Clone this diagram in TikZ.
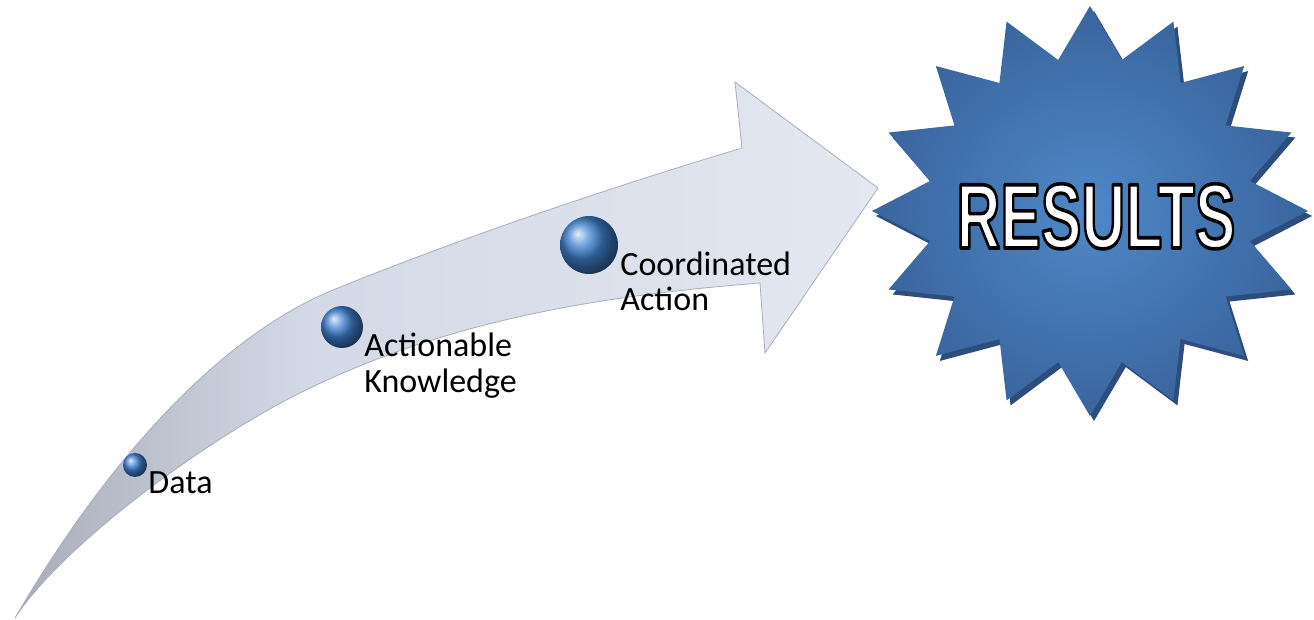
\documentclass[tikz,border=0pt]{standalone}
\usepackage{fontspec}
\setmainfont{Carlito}
\newfontfamily\resfont{Liberation Sans}
\definecolor{arrowL}{HTML}{A8ADB9}
\definecolor{arrowM}{HTML}{D3D9E6}
\definecolor{arrowR}{HTML}{E3E8F1}
\definecolor{arrowEdge}{HTML}{A9AEB9}
\definecolor{sphereblue}{HTML}{3F82D0}
\definecolor{starIn}{HTML}{4E88C8}
\definecolor{starOut}{HTML}{3A659E}
\definecolor{starShadow}{HTML}{2C4E7E}
\pgfdeclarehorizontalshading{arrowshade}{100bp}{color(0bp)=(arrowL); color(25bp)=(arrowL); color(42bp)=(arrowM); color(75bp)=(arrowR); color(100bp)=(arrowR)}
\tikzset{
  sphere/.style={circle, inner sep=0pt, ball color=sphereblue},
  lbl/.style={anchor=base west, inner sep=0pt, font=\fontsize{17}{18}\selectfont, text=black},
  resfontstyle/.style={anchor=base, inner sep=0pt, font=\resfont\bfseries\fontsize{46}{46}\selectfont}
}
\newcommand\restext{\scalebox{0.66}[1]{RESULTS}}
\begin{document}
\begin{tikzpicture}[x=0.5pt,y=-0.5pt]
\fill[white] (0,0) rectangle (1314,620);
\path[use as bounding box] (0,0) rectangle (1314,620);
% curved arrow
\shadedraw[shading=arrowshade, draw=arrowEdge, line width=0.4pt]
 (15,618) .. controls (110,455) and (223,335) .. (333,290)
 .. controls (463,237) and (612,187) .. (742,148)
 -- (735,82) -- (878,188) -- (765,353) -- (760,283)
 .. controls (610,295) and (450,318) .. (300,393)
 .. controls (200,443) and (60,548) .. (15,618)
 -- cycle;
% spheres
\node[sphere, minimum size=12pt] (s1) at (135,465) {};
\node[sphere, minimum size=21pt] (s2) at (342,327) {};
\node[sphere, minimum size=29pt] (s3) at (589,245) {};
% labels
\node[lbl] (l1) at (148,494) {Data};
\node[lbl] (l2a) at (364,357) {Actionable};
\node[lbl] (l2b) at (364,393) {Knowledge};
\node[lbl] (l3a) at (620,276) {Coordinated};
\node[lbl] (l3b) at (620,311) {Action};
% star shadow
\fill[starShadow, shift={(1094,216)}] (90:218 and 205)
  \foreach \i in {0,...,15} { -- ({101.25+\i*22.5}:163 and 154) -- ({112.5+\i*22.5}:218 and 205) } -- cycle;
% star
\shade[inner color=starIn, outer color=starOut, shift={(1090,211)}] (90:218 and 205)
  \foreach \i in {0,...,15} { -- ({101.25+\i*22.5}:163 and 154) -- ({112.5+\i*22.5}:218 and 205) } -- cycle;
% RESULTS outlined text (fill white, stroke black)
\node[resfontstyle, text=white] (results) at (1096,248)
  {\special{pdf:literal direct 2 Tr 1.8 w 0 0 0 RG 1 j}\restext\special{pdf:literal direct 0 Tr}};
\end{tikzpicture}
\end{document}
